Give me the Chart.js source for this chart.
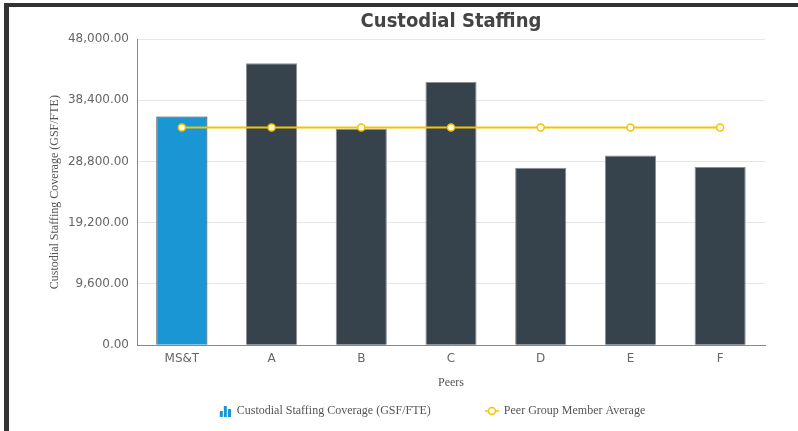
<!DOCTYPE html>
<html>
<head>
<meta charset="utf-8">
<script src="https://cdn.jsdelivr.net/npm/chart.js@4"></script>
<style>
  html, body { margin: 0; padding: 0; background: #fff; }
  .frame {
    position: absolute; left: 4px; top: 3px; right: 0; bottom: 0;
    border-top: 4px solid #333; border-left: 5px solid #333;
  }
  .box { position: absolute; left: 0; top: 0; width: 789px; height: 424px; }
</style>
</head>
<body>
<div class="frame"><div class="box"><canvas id="chart"></canvas></div></div>
<script>
const peers = ["MS&T", "A", "B", "C", "D", "E", "F"]
const coverage = [35870, 44180, 33920, 41240, 27820, 29720, 27920]
const peerAverage = [34130, 34130, 34130, 34130, 34130, 34130, 34130]
const yTicks = [0, 9600, 19200, 28800, 38400, 48000]

const blue = "#1b96d4"
const slate = "#36434d"
const gold = "#f5c400"
const serif = "'Liberation Serif', 'Times New Roman', serif"
const sans = "'DejaVu Sans', Verdana, sans-serif"

// little legend icons
function barIcon() {
  const c = document.createElement("canvas")
  c.width = 12; c.height = 12
  const g = c.getContext("2d")
  g.fillStyle = blue
  g.fillRect(1, 6, 3, 6)
  g.fillRect(5, 1, 3, 11)
  g.fillRect(9, 4, 3, 8)
  return c
}
function lineIcon() {
  const c = document.createElement("canvas")
  c.width = 14; c.height = 10
  const g = c.getContext("2d")
  g.strokeStyle = gold; g.lineWidth = 1.5
  g.beginPath(); g.moveTo(0, 5); g.lineTo(14, 5); g.stroke()
  g.fillStyle = "#fff"
  g.beginPath(); g.arc(7, 5, 3.5, 0, Math.PI * 2); g.fill(); g.stroke()
  return c
}
const legendIcons = [barIcon(), lineIcon()]

const shiftLegend = {
  id: "shiftLegend",
  beforeDraw(chart) {
    const lg = chart.legend
    if (!lg || lg._shifted === chart.chartArea.left) return
    lg.left -= 19; lg.right -= 19
    lg._shifted = chart.chartArea.left
  }
}

const ctx = document.getElementById("chart").getContext("2d")
new Chart(ctx, {
  type: "bar",
  data: {
    labels: peers,
    datasets: [
      {
        label: "Custodial Staffing Coverage (GSF/FTE)",
        data: coverage,
        backgroundColor: peers.map((p, i) => i === 0 ? blue : slate),
        borderColor: peers.map((p, i) => i === 0 ? "#2b3540" : "#8a8f94"),
        borderWidth: 1,
        borderSkipped: "bottom",
        categoryPercentage: 1,
        barPercentage: 0.57,
        order: 1,
      },
      {
        type: "line",
        label: "Peer Group Member Average",
        data: peerAverage,
        borderColor: gold,
        borderWidth: 2,
        pointRadius: 3.5,
        pointBorderWidth: 1.5,
        pointBackgroundColor: "#fff",
        pointBorderColor: gold,
        order: 0,
      },
    ],
  },
  options: {
    responsive: true,
    maintainAspectRatio: false,
    animation: false,
    layout: { padding: { top: 0, right: 33, bottom: 4, left: 0 } },
    plugins: {
      title: {
        display: true,
        text: "Custodial Staffing",
        fullSize: false,
        color: "#444",
        font: { family: "'DejaVu Sans Condensed', 'DejaVu Sans', sans-serif", size: 20, weight: "bold" },
        padding: { top: 3, bottom: 5 },
      },
      legend: {
        position: "bottom",
        fullSize: false,
        labels: {
          usePointStyle: true,
          color: "#555",
          font: { family: serif, size: 12 },
          padding: 10,
          sort: (a, b) => a.datasetIndex - b.datasetIndex,
          // custom icons, and a wider gap after the first entry
          generateLabels: (chart) => {
            const items = Chart.defaults.plugins.legend.labels.generateLabels(chart)
            items.forEach(it => {
              it.pointStyle = legendIcons[it.datasetIndex]
              if (it.datasetIndex === 0) it.text += "\u2003\u2003\u2003\u2002 "
            })
            return items
          },
        },
      },
      tooltip: { enabled: false },
    },
    scales: {
      x: {
        grid: { display: false, drawTicks: false },
        border: { color: "#888" },
        ticks: { color: "#666", font: { family: sans, size: 12 }, padding: 6 },
        title: { display: true, text: "Peers", color: "#555", font: { family: serif, size: 12 }, padding: { top: 4, bottom: 5 } },
      },
      y: {
        min: 0,
        max: 48000,
        afterFit: (s) => { s.width = 128 },
        afterBuildTicks: (s) => { s.ticks = yTicks.map(v => ({ value: v })) },
        grid: { color: "#e6e6e6", drawTicks: false },
        border: { color: "#888" },
        ticks: {
          color: "#666",
          font: { family: sans, size: 12 },
          padding: 8,
          callback: (v) => v.toLocaleString("en-US", { minimumFractionDigits: 2, maximumFractionDigits: 2 }),
        },
        title: { display: true, text: "Custodial Staffing Coverage (GSF/FTE)", color: "#555", font: { family: serif, size: 12 }, padding: { top: 39, bottom: 0 } },
      },
    },
  },
  plugins: [shiftLegend],
})
</script>
</body>
</html>
